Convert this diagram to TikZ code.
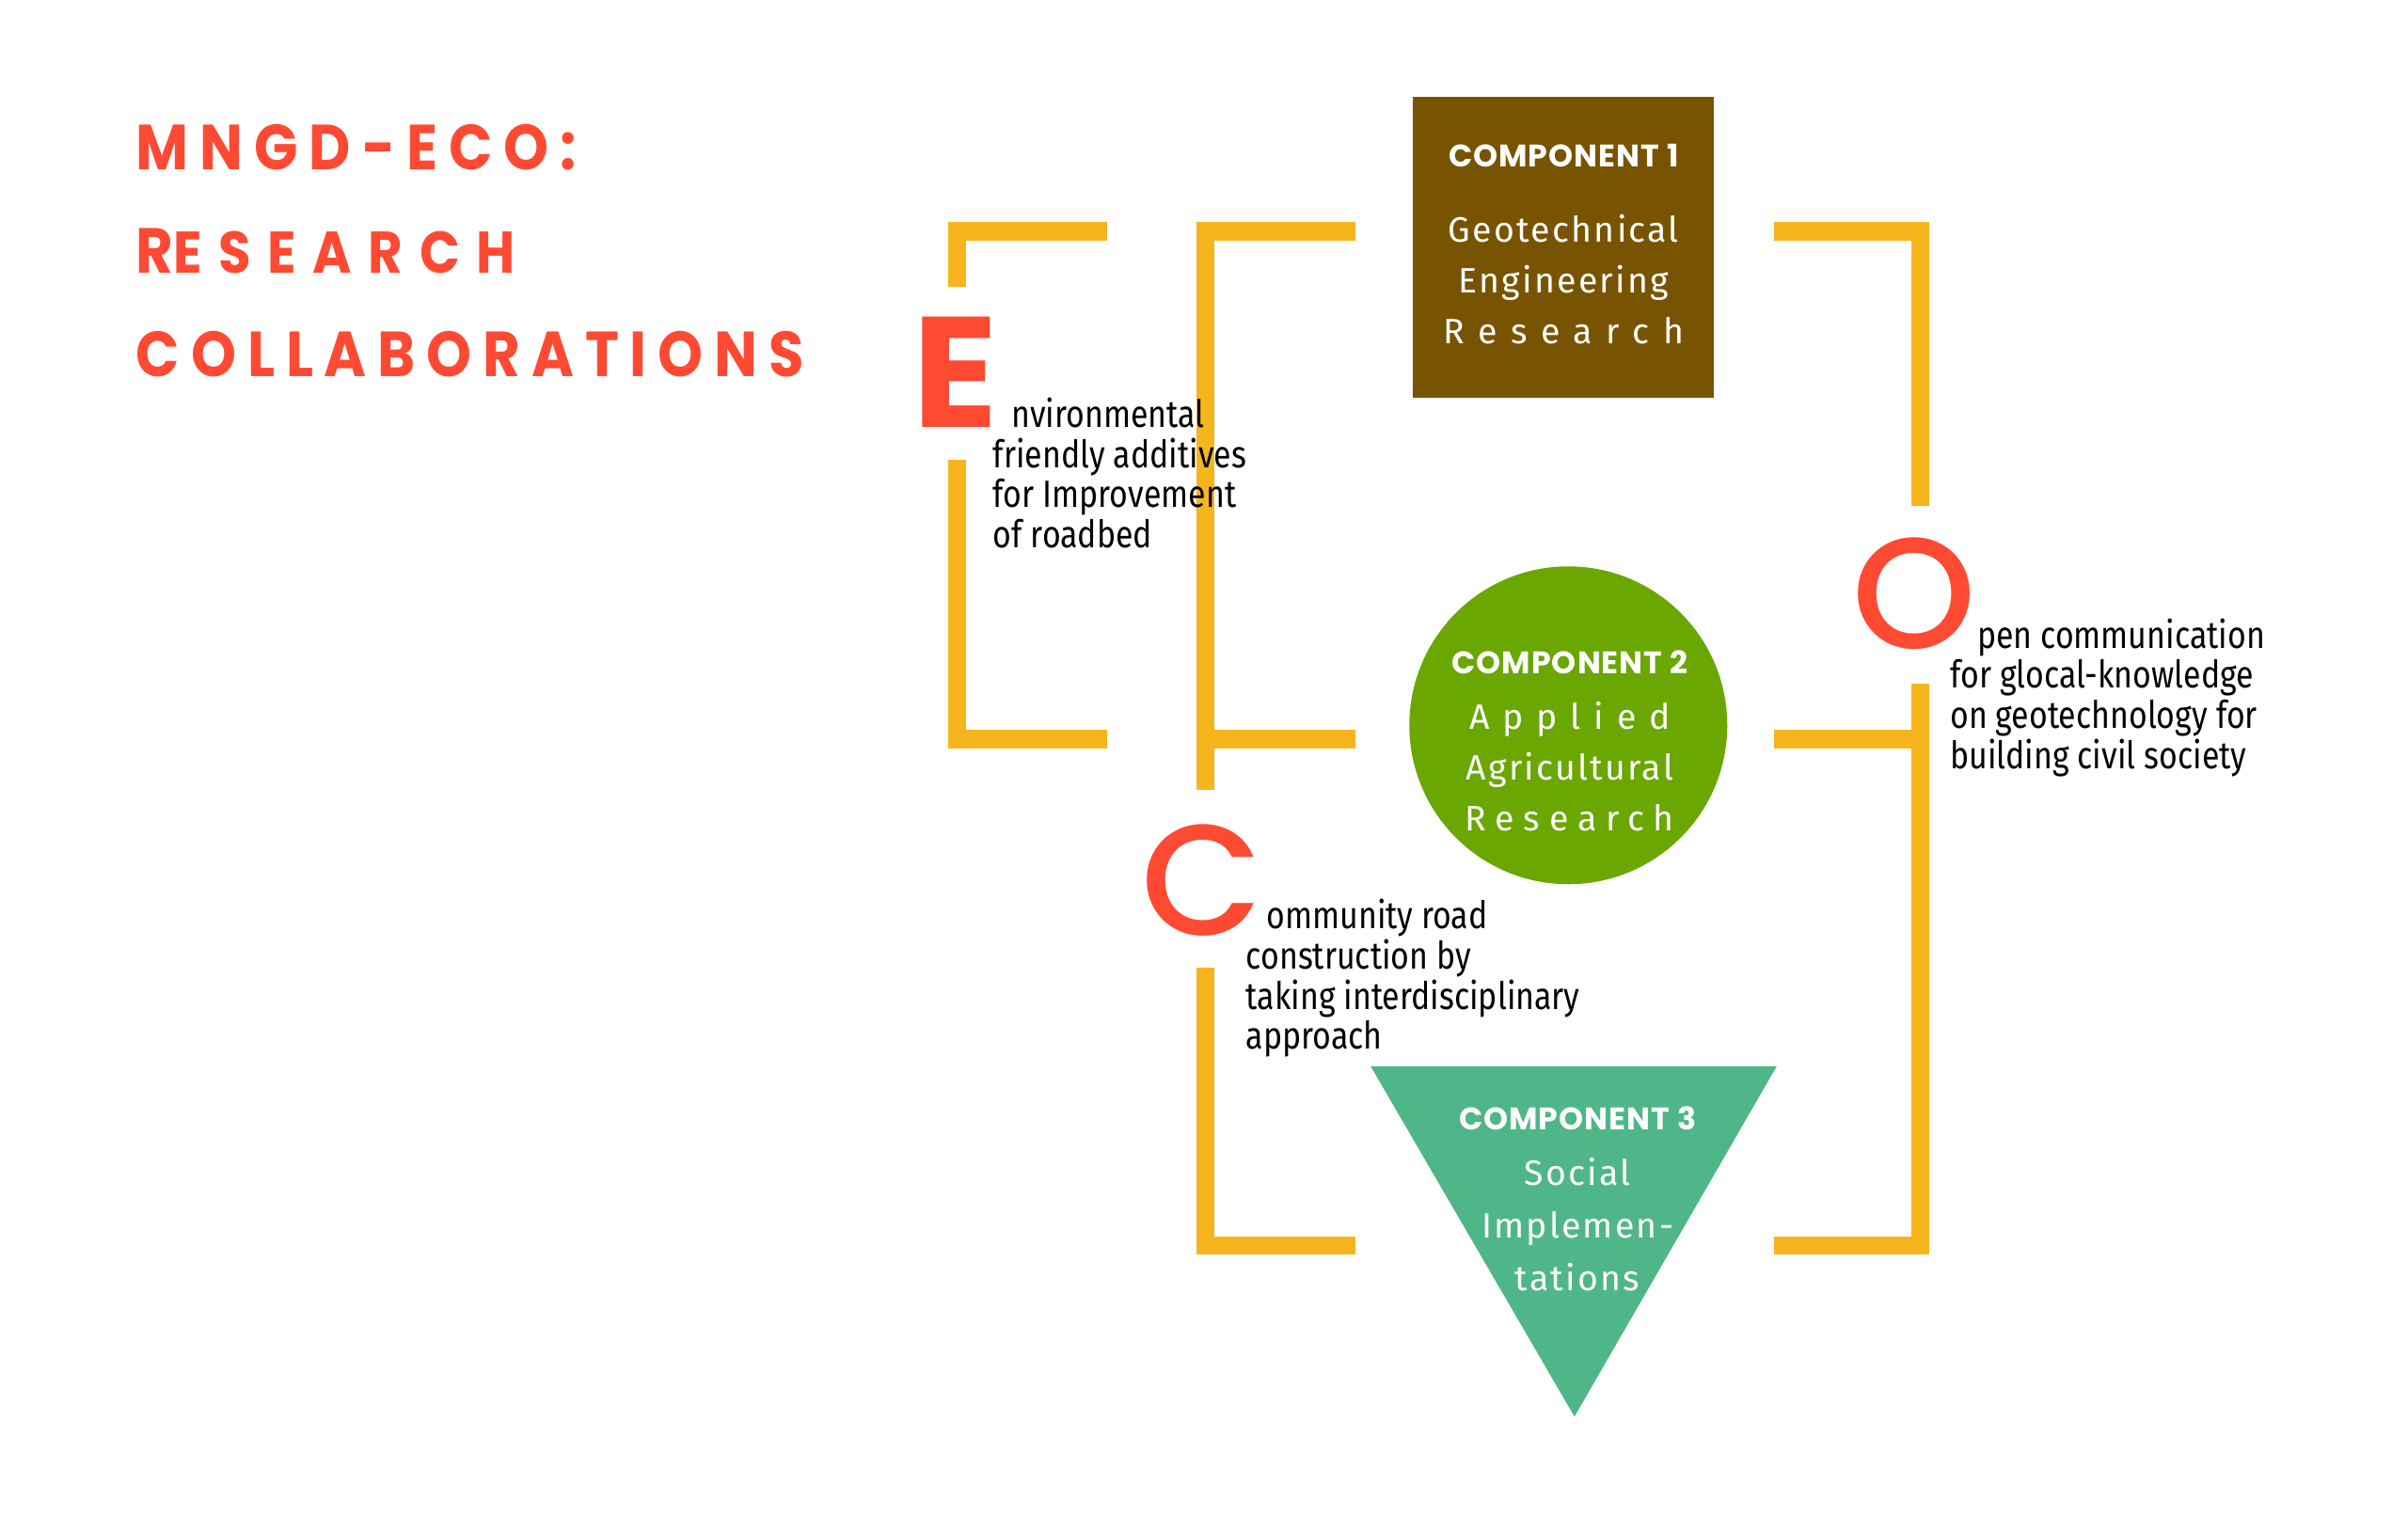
\documentclass[tikz,border=0pt]{standalone}
\usepackage{fontspec}
\setmainfont{Fira Sans}
\newfontfamily\titlefont[FakeStretch=0.9,LetterSpace=17.5]{Poppins}
\newfontfamily\headfont[LetterSpace=3]{Poppins}
\newfontfamily\roundfont{Poppins}[UprightFont=* Medium]
\newfontfamily\bodyfont[LetterSpace=6]{Fira Sans}
\newfontfamily\sidefont[FakeStretch=0.84]{Fira Sans}
\newcommand{\comphead}{\fontsize{11.5}{13}\headfont\bfseries}
\newcommand{\spaced}[2]{{\addfontfeature{LetterSpace=#1}#2}}
\definecolor{ecored}{HTML}{FF4A33}
\definecolor{ecoyellow}{HTML}{F7B51D}
\definecolor{ecobrown}{HTML}{785400}
\definecolor{ecogreen}{HTML}{6AA700}
\definecolor{ecoteal}{HTML}{4FB787}
\begin{document}
\begin{tikzpicture}[x=0.02cm,y=-0.02cm, line join=miter,
	bar/.style={draw=ecoyellow,line width=6.8pt},
	title/.style={anchor=base west,inner sep=0pt,text=ecored,font=\fontsize{23.5}{23.5}\titlefont\bfseries},
	bigletter/.style={anchor=base west,inner sep=0pt,text=ecored,font=\fontsize{58}{58}\headfont\bfseries},
	comptext/.style={anchor=north,inner sep=0pt,text=white,align=center,font=\fontsize{13}{18.8}\bodyfont},
	side/.style={anchor=base west,inner sep=0pt,align=left,font=\fontsize{14}{14.8}\sidefont}]
				\useasboundingbox (0,0) rectangle (1560,980.5);
				\node[title] (t1) at (88,110) {MNGD-ECO:};
				\node[title] (t2) at (88,177) {R{\fontsize{21.7}{21.7}\selectfont\addfontfeature{LetterSpace=28}ESEARCH}};
				\node[title] (t3) at (88,244) {COLLABORATIONS};
				% components
				\node[fill=ecobrown,minimum size=3.9cm,inner sep=0pt] (comp1) at (1013,160.5) {};
				\node[circle,fill=ecogreen,minimum size=4.12cm,inner sep=0pt] (comp2) at (1016,470) {};
				\fill[ecoteal] (888,691) coordinate (c3l) -- (1151,691) coordinate (c3r) -- (1020,918) coordinate (c3b) -- cycle;
				% brackets
				\draw[bar] (717,150) -- (620,150) -- (620,186);
				\draw[bar] (620,298) -- (620,479) -- (717,479);
				\draw[bar] (878,150) -- (781,150) -- (781,512);
				\draw[bar] (781,479) -- (878,479);
				\draw[bar] (781,627) -- (781,807) -- (878,807);
				\draw[bar] (1149,150) -- (1244,150) -- (1244,328);
				\draw[bar] (1244,443) -- (1244,807) -- (1149,807);
				\draw[bar] (1149,479) -- (1244,479);
				\node[comptext] (txt1) at (1013,93) {{\comphead COMPONENT 1}\\[9pt] Geotechnical\\ Engineering\\ \spaced{39}{Research}};
				\node[comptext] (txt2) at (1017,421) {{\comphead COMPONENT 2}\\[1.7pt] \spaced{37}{Applied}\\ Agricultural\\ \spaced{26}{Research}};
				\node[comptext,font=\fontsize{13}{19.3}\bodyfont] (txt3) at (1022,717) {{\comphead COMPONENT 3}\\[1.1pt] Social\\ Implemen-\\ tations};
				% letters and notes
				\node[bigletter] (lettE) at (591,277) {E};
				\node[bigletter,font=\fontsize{58}{58}\roundfont] (lettO) at (1200,420) {O};
				\node[bigletter,font=\fontsize{58}{58}\roundfont] (lettC) at (739,606) {C};
				\node[side] (noteE) at (643,355) {\hspace*{6.8pt}nvironmental\\friendly additives\\for Improvement\\of roadbed};
				\node[side] (noteO) at (1263,498) {\hspace*{10pt}pen communication\\for glocal-knowledge\\on geotechnology for\\building civil society};
				\node[side] (noteC) at (807,680) {\hspace*{7.5pt}ommunity road\\construction by\\taking interdisciplinary\\approach};
			\end{tikzpicture}
\end{document}
